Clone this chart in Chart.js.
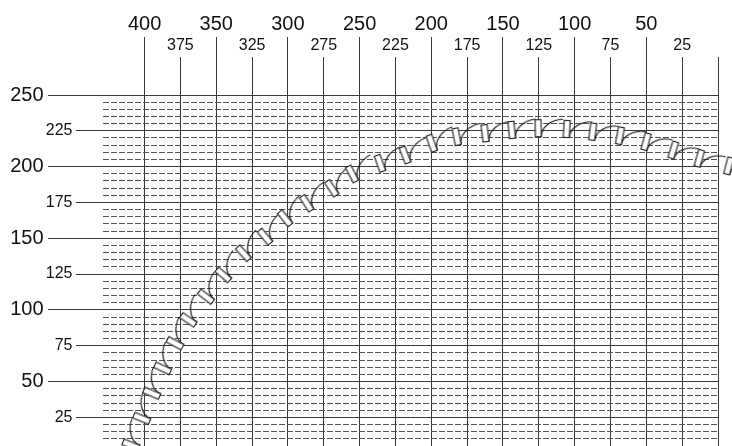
<!DOCTYPE html>
<html>
<head>
<meta charset="utf-8">
<script src="https://cdn.jsdelivr.net/npm/chart.js@4.4.1/dist/chart.umd.min.js"></script>
<style>
  html, body { margin: 0; padding: 0; background: #fff; }
  #wrap { width: 732px; height: 446px; }
</style>
</head>
<body>
<div id="wrap"><canvas id="canvas"></canvas></div>
<script>
const xMajorTicks = [400, 350, 300, 250, 200, 150, 100, 50];
const xMinorTicks = [375, 325, 275, 225, 175, 125, 75, 25, 0];
const yMajorTicks = [250, 200, 150, 100, 50];
const yMinorTicks = [225, 175, 125, 75, 25];

// centre of each coil turn
const coilX = [416, 409.5, 402.0, 395.0, 387.4, 378.8, 369.5, 357.2, 345.1, 331.1,
    316.0, 302.0, 286.9, 269.5, 255.3, 235.8, 218.3, 199.7, 182.3, 162.5,
    143.9, 125.4, 105.5, 87.4, 68.4, 50.2, 31.2, 13.0, -7.5];
const coilY = [-12, 5.7, 24.3, 41.8, 59.2, 76.7, 93.0, 109.2, 124.4, 139.5,
    151.1, 163.9, 174.4, 184.9, 194.9, 202.3, 208.1, 216.3, 220.9, 223.3,
    225.6, 226.8, 226.3, 224.4, 221.6, 217.4, 211.6, 205.8, 200.5];

const font = 'Liberation Sans, Arial, sans-serif';
const lineCol = '#3a3a3a';

// one turn of the spring: the band and the arc running on to the next band
const coil = document.createElement('canvas');
coil.width = 64;
coil.height = 30;
const g = coil.getContext('2d');
g.strokeStyle = '#1a1a1a';
g.lineWidth = 1.1;
g.beginPath();
g.ellipse(57, 23.5, 22, 17, 0, Math.PI, 1.5 * Math.PI);
g.stroke();
g.fillStyle = '#fff';
g.fillRect(29, 6.5, 6, 17);
g.strokeRect(29, 6.5, 6, 17);

const noPad = s => { s.paddingLeft = 0; s.paddingRight = 0; s.paddingTop = 0; s.paddingBottom = 0; };
const useTicks = list => s => { s.ticks = list.slice().sort((a, b) => a - b).map(v => ({ value: v })); };

// the minor axes are squeezed to nothing, so give their labels room to show
const labelRoom = {
    id: 'labelRoom',
    afterLayout: c => {
        c.scales.y2.left = 0;
        c.scales.x2.top = 0;
    }
};

const ctx = document.getElementById('canvas');

new Chart(ctx, {
    type: 'scatter',
    data: {
        datasets: [{
            data: coilX.map((x, i) => ({ x: x, y: coilY[i] })),
            pointStyle: coil,
            pointRadius: 10,
            pointHoverRadius: 10,
            pointRotation: c => {
                if (c.type !== 'data') return 0;
                const i = c.dataIndex;
                const a = Math.max(i - 1, 0), b = Math.min(i + 1, coilX.length - 1);
                const xs = c.chart.scales.x, ys = c.chart.scales.y;
                const dx = xs.getPixelForValue(coilX[b]) - xs.getPixelForValue(coilX[a]);
                const dy = ys.getPixelForValue(coilY[b]) - ys.getPixelForValue(coilY[a]);
                return Math.atan2(dy, dx) * 180 / Math.PI;
            },
            clip: false
        }]
    },
    plugins: [labelRoom],
    options: {
        responsive: true,
        maintainAspectRatio: false,
        animation: false,
        events: [],
        layout: { autoPadding: false, padding: { left: 0, right: 14, top: 0, bottom: 0 } },
        plugins: {
            legend: { display: false },
            tooltip: { enabled: false }
        },
        scales: {
            x: {
                type: 'linear', position: 'top', reverse: true, min: 0, max: 429, weight: 2,
                afterBuildTicks: useTicks(xMajorTicks),
                afterFit: s => { s.height = 95; noPad(s); },
                border: { display: false },
                grid: { color: lineCol, tickColor: lineCol, tickLength: 58, lineWidth: 1 },
                ticks: { font: { family: font, size: 20 }, color: '#111', padding: 1, maxRotation: 0, autoSkip: false }
            },
            x2: {
                type: 'linear', position: 'top', reverse: true, min: 0, max: 429, weight: 1,
                afterBuildTicks: useTicks(xMinorTicks),
                afterFit: s => { s.height = 0; noPad(s); },
                border: { display: false },
                grid: { color: lineCol, tickColor: lineCol, tickLength: 38, lineWidth: 1 },
                ticks: {
                    font: { family: font, size: 16 }, color: '#111', padding: 2, maxRotation: 0, autoSkip: false,
                    callback: v => v === 0 ? '' : v
                }
            },
            y: {
                type: 'linear', position: 'left', min: 5, max: 250, weight: 2,
                afterBuildTicks: useTicks(yMajorTicks),
                afterFit: s => { s.width = 103; noPad(s); },
                border: { display: false },
                grid: { color: lineCol, tickColor: lineCol, tickLength: 55, lineWidth: 1 },
                ticks: { font: { family: font, size: 20 }, color: '#111', padding: 4.5, autoSkip: false }
            },
            y2: {
                type: 'linear', position: 'left', min: 5, max: 250, weight: 1,
                afterBuildTicks: useTicks(yMinorTicks),
                afterFit: s => { s.width = 0; noPad(s); },
                border: { display: false },
                grid: { color: lineCol, tickColor: lineCol, tickLength: 27, lineWidth: 1 },
                ticks: { font: { family: font, size: 16 }, color: '#111', padding: 3.5, autoSkip: false }
            },
            y3: {
                type: 'linear', position: 'left', min: 5, max: 250, weight: 0,
                afterBuildTicks: s => {
                    const t = [];
                    for (let v = 10; v < 250; v += 5) if (v % 25) t.push({ value: v });
                    s.ticks = t;
                },
                afterFit: s => { s.width = 0; noPad(s); },
                border: { display: false, dash: [6, 2] },
                grid: { color: '#555', lineWidth: 1, drawTicks: false },
                ticks: { display: false }
            }
        }
    }
});
</script>
</body>
</html>
